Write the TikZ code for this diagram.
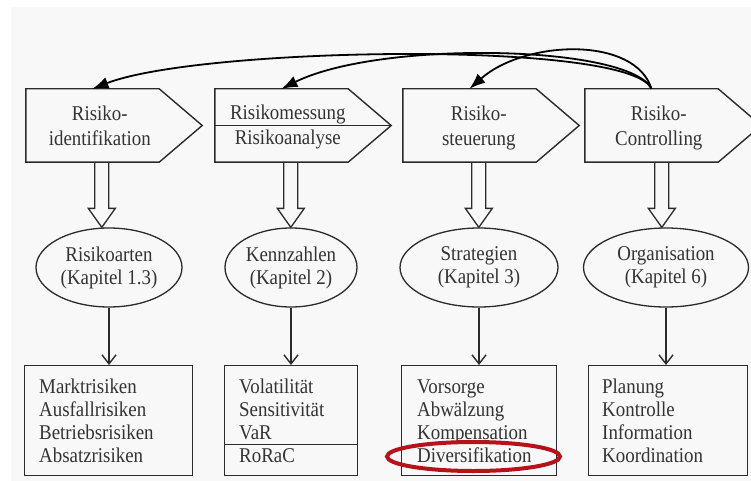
\documentclass[tikz,border=0pt]{standalone}
\usepackage{fontspec}
\setmainfont[FakeStretch=0.9]{Liberation Serif}
\usetikzlibrary{arrows.meta,shapes.geometric,calc}
\definecolor{ink}{HTML}{2B2B2B}
\definecolor{txt}{HTML}{333333}
\definecolor{paper}{HTML}{F8F8F8}
\definecolor{redmark}{HTML}{B5121B}
\begin{document}
\begin{tikzpicture}[x=1pt,y=-1pt,
  font=\fontsize{21}{23}\selectfont,
  stage/.style={minimum width=133pt, minimum height=73pt, inner sep=0pt},
  outline/.style={draw=ink, line width=1.4pt, line join=miter},
  stagetext/.style={text=txt, text width=140pt, align=center, inner sep=0pt,
    font=\fontsize{21}{25}\selectfont, anchor=base},
  topic/.style={ellipse, draw=ink, line width=1.3pt, minimum height=79pt,
    inner sep=0pt, text=txt, align=center},
  hollow/.style={draw=ink, line width=1.3pt, line join=miter},
  listbox/.style={draw=ink, line width=1.3pt, minimum height=110pt,
    inner sep=0pt, anchor=north west},
  items/.style={text=txt, text width=140pt, align=left, inner sep=0pt,
    anchor=base west},
  feedback/.style={draw=black, line width=1.8pt, -{Latex[length=16pt,width=12pt]}},
  down/.style={draw=ink, line width=1.4pt, -{Straight Barb[length=9pt,width=14pt]}},
  highlight/.style={ellipse, draw=redmark, line width=4pt, inner sep=0pt}
]
\useasboundingbox (0,0) rectangle (751,481);
\clip (0,0) rectangle (751,481);
\fill[paper] (11,7) rectangle (751,481);

% process stages (rectangular part of each arrow-shaped box)
\node[stage] (p1) at (92.5,125.5) {};
\node[stage] (p2) at (281.5,125.5) {};
\node[stage] (p3) at (469.5,125.5) {};
\node[stage] (p4) at (651.5,125.5) {};
\foreach \p in {p1,p2,p3,p4}{
  \draw[outline] (\p.north west) -- (\p.north east) -- ($(\p.east)+(43,0)$)
    -- (\p.south east) -- (\p.south west) -- cycle;
}
\draw[outline] (p2.west) -- ($(p2.east)+(43,0)$);

\node[stagetext] (s1) at ($(p1.north west)+(74,32)$) {Risiko-\\identifikation};
\node[stagetext] (s2a) at ($(p2.north west)+(73,31)$) {Risikomessung};
\node[stagetext] (s2b) at ($(p2.north west)+(73,56)$) {Risikoanalyse};
\node[stagetext] (s3) at ($(p3.north west)+(76,32)$) {Risiko-\\steuerung};
\node[stagetext] (s4) at ($(p4.north west)+(74,32)$) {Risiko-\\Controlling};

% feedback loop from controlling back to the earlier stages
\draw[feedback] (p4.north) .. controls +(-21.5,-49) and +(107.5,-42) .. (p1.north);
\draw[feedback] (p4.north) .. controls +(-21.5,-44) and +(98.5,-49) .. (p2.north);
\draw[feedback] (p4.north) .. controls +(-16.5,-53) and +(55.5,-49) .. (p3.north);

% topics
\node[topic, minimum width=146pt] (e1) at (109,267.5) {Risikoarten\\(Kapitel 1.3)};
\node[topic, minimum width=132pt] (e2) at (291,267.5) {Kennzahlen\\(Kapitel 2)};
\node[topic, minimum width=158pt] (e3) at (479,267.5) {Strategien\\(Kapitel 3)};
\node[topic, minimum width=165pt] (e4) at (666,267.5) {Organisation\\(Kapitel 6)};

% hollow arrows from the stages to the topics
\foreach \i/\dx in {1/76,2/76,3/76,4/77}{
  \coordinate (a\i) at ($(p\i.south west)+(\dx,0)$);
  \coordinate (t\i) at (a\i |- e\i.north);
  \draw[hollow] ([xshift=-7pt]a\i) -- ([xshift=-7pt,yshift=19pt]t\i)
    -- ([xshift=-13.5pt,yshift=19pt]t\i) -- (t\i)
    -- ([xshift=13.5pt,yshift=19pt]t\i) -- ([xshift=7pt,yshift=19pt]t\i)
    -- ([xshift=7pt]a\i);
}

% detail boxes
\node[listbox, minimum width=168pt] (b1) at (24,365) {};
\node[listbox, minimum width=133pt] (b2) at (224,365) {};
\node[listbox, minimum width=155pt] (b3) at (401,365) {};
\node[listbox, minimum width=159pt] (b4) at (588,365) {};
\draw[draw=ink, line width=1.3pt] ($(b2.south west)+(0,-32)$) -- ($(b2.south east)+(0,-32)$);

\node[items] (l1) at ($(b1.north west)+(15,28)$) {Marktrisiken\\Ausfallrisiken\\Betriebsrisiken\\Absatzrisiken};
\node[items] (l2) at ($(b2.north west)+(15,28)$) {Volatilität\\Sensitivität\\VaR\\RoRaC};
\node[items] (l3) at ($(b3.north west)+(16,28)$) {Vorsorge\\Abwälzung\\Kompensation\\Diversifikation};
\node[items] (l4) at ($(b4.north west)+(14,28)$) {Planung\\Kontrolle\\Information\\Koordination};

\foreach \i in {1,2,3,4}{
  \draw[down] (e\i.south) -- (e\i.south |- b\i.north);
}

\node[highlight, minimum width=173pt, minimum height=29pt] (hl) at (473.5,456.5) {};
\end{tikzpicture}
\end{document}
